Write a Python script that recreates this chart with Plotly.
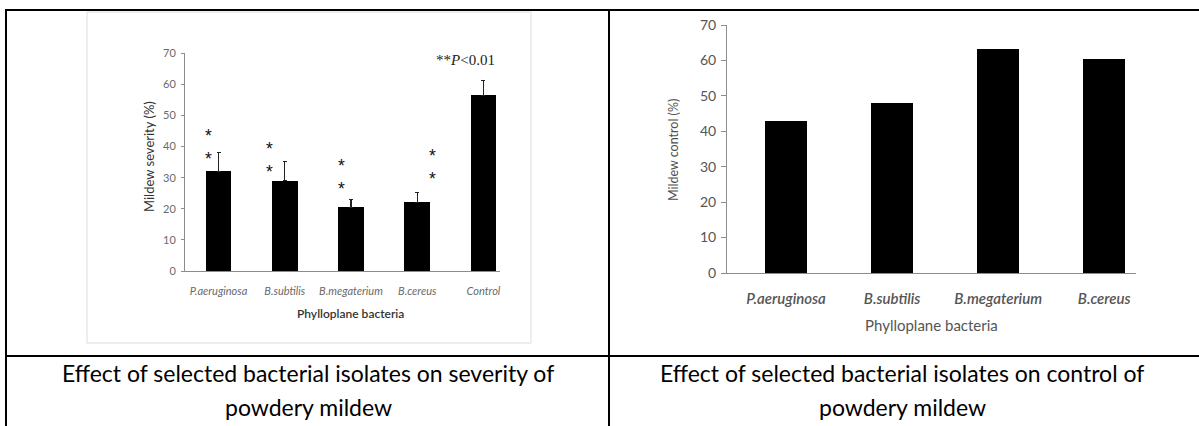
import plotly.graph_objects as go

W, H = 1199, 426

# ---------------- data ----------------
sev_categories = ["P.aeruginosa", "B.subtilis", "B.megaterium", "B.cereus", "Control"]
sev_values = [32.0, 29.0, 20.4, 22.1, 56.4]
sev_errors = [6.2, 6.3, 2.6, 3.2, 4.9]

ctrl_categories = ["P.aeruginosa", "B.subtilis", "B.megaterium", "B.cereus"]
ctrl_values = [42.9, 47.9, 63.2, 60.5]

y_ticks = [0, 10, 20, 30, 40, 50, 60, 70]

# significance markers ("**" written as two stacked asterisks per treated isolate)
star_offsets = [-0.15, -0.23, -0.14, 0.23]
star_levels = [40.4, 36.3, 30.7, 34.0]

caption_left = ["Effect of selected bacterial isolates on severity of", "powdery mildew"]
caption_right = ["Effect of selected bacterial isolates on control of", "powdery mildew"]


def px(x):
    return x / W


def py(y):
    return 1 - y / H


fig = go.Figure()

# left chart: mildew severity
fig.add_trace(go.Bar(
    x=list(range(len(sev_categories))), y=sev_values,
    marker=dict(color="black", line=dict(width=0)), width=0.39,
    error_y=dict(type="data", symmetric=False, array=sev_errors,
                 arrayminus=[0] * len(sev_errors), color="#222222",
                 thickness=1.3, width=2),
    xaxis="x", yaxis="y", showlegend=False, hoverinfo="skip",
))

# right chart: mildew control
fig.add_trace(go.Bar(
    x=list(range(len(ctrl_categories))), y=ctrl_values,
    marker=dict(color="black", line=dict(width=0)), width=0.4,
    xaxis="x2", yaxis="y2", showlegend=False, hoverinfo="skip",
))

axis_gray = "#8c8c8c"

fig.update_layout(
    template="none",
    autosize=False,
    width=W, height=H,
    margin=dict(l=0, r=0, t=0, b=0, pad=0, autoexpand=False),
    paper_bgcolor="white", plot_bgcolor="white",
    font=dict(family="Lato, 'Open Sans', sans-serif", color="#595959"),
    bargap=0,
    xaxis=dict(
        domain=[px(185), px(500)], range=[-0.506, 4.25], automargin=False,
        tickvals=list(range(len(sev_categories))), ticktext=sev_categories,
        tickfont=dict(size=11, family="Lato", color="#6a6a6a", style="italic"),
        showline=True, linecolor=axis_gray, linewidth=1,
        showgrid=False, zeroline=False, ticks="", ticklabelstandoff=10,
        anchor="y", fixedrange=True,
    ),
    yaxis=dict(
        domain=[py(271), py(53.3)], range=[0, 70], automargin=False,
        tickvals=y_ticks, tickfont=dict(size=11, family="Lato", color="#6a6a6a"),
        showline=True, linecolor=axis_gray, linewidth=1,
        ticks="outside", ticklen=3, tickcolor=axis_gray, ticklabelstandoff=3,
        showgrid=False, zeroline=False, anchor="x", fixedrange=True,
    ),
    xaxis2=dict(
        domain=[px(727), px(1136)], range=[-0.557, 3.30], automargin=False,
        tickvals=list(range(len(ctrl_categories))), ticktext=ctrl_categories,
        tickfont=dict(size=15, family="Lato", color="#555555", style="italic", weight=600),
        showline=True, linecolor=axis_gray, linewidth=1,
        showgrid=False, zeroline=False, ticks="", ticklabelstandoff=12,
        anchor="y2", fixedrange=True,
    ),
    yaxis2=dict(
        domain=[py(273), py(25)], range=[0, 70], automargin=False,
        tickvals=y_ticks, tickfont=dict(size=14, family="Lato", color="#555555"),
        showline=True, linecolor=axis_gray, linewidth=1,
        ticks="outside", ticklen=5, tickcolor=axis_gray, ticklabelstandoff=2,
        showgrid=False, zeroline=False, anchor="x2", fixedrange=True,
    ),
)

shapes = []
# table rules
line_k = dict(color="black", width=2)
shapes.append(dict(type="line", xref="paper", yref="paper", x0=px(5), x1=1, y0=py(10), y1=py(10), line=line_k))
shapes.append(dict(type="line", xref="paper", yref="paper", x0=px(6), x1=px(6), y0=py(10), y1=0, line=line_k))
shapes.append(dict(type="line", xref="paper", yref="paper", x0=px(609), x1=px(609), y0=py(10), y1=0, line=line_k))
shapes.append(dict(type="line", xref="paper", yref="paper", x0=px(5), x1=1, y0=py(356), y1=py(356), line=line_k))
# light frame around the left (embedded) chart
shapes.append(dict(type="rect", xref="paper", yref="paper", x0=px(87), x1=px(531), y0=py(343), y1=py(12),
                   line=dict(color="#dcdcdc", width=1), layer="below"))
fig.update_layout(shapes=shapes)

ann = []


def note(x, y, text, font, **kw):
    d = dict(x=px(x), y=py(y), xref="paper", yref="paper", text=text, showarrow=False,
             xanchor="center", yanchor="middle", font=font)
    d.update(kw)
    ann.append(d)


# stacked asterisks
for i, (off, lv) in enumerate(zip(star_offsets, star_levels)):
    ann.append(dict(x=i + off, y=lv, xref="x", yref="y", text="*<br>*", showarrow=False,
                    xanchor="center", yanchor="middle", align="center",
                    font=dict(size=17.5, family="Liberation Sans", color="#111111"), yshift=-2))
# P value note
note(466, 60, "**<i>P</i>&lt;0.01", dict(size=15, family="Liberation Serif", color="#222222"))
# axis titles
note(149, 157, "Mildew severity (%)", dict(size=13, family="Lato", color="#333333"), textangle=-90)
note(350, 313, "Phylloplane bacteria", dict(size=12, family="Lato", color="#333333", weight=600))
note(673, 150, "Mildew control (%)", dict(size=12.5, family="Lato", color="#4d4d4d"), textangle=-90)
note(932, 325, "Phylloplane bacteria", dict(size=15, family="Lato", color="#555555"))
# captions
cap_font = dict(size=23, family="Lato", color="black")
note(308, 373, caption_left[0], cap_font)
note(308, 407, caption_left[1], cap_font)
note(902, 373, caption_right[0], cap_font)
note(902, 407, caption_right[1], cap_font)
fig.update_layout(annotations=ann)

fig.write_html(
    "out.html",
    config={"displayModeBar": False},
    post_script=(
        "document.documentElement.style.margin='0';"
        "document.body.style.margin='0';"
        "document.documentElement.style.overflow='hidden';"
        "var g=document.getElementById('{plot_id}');"
        "g.style.position='fixed';g.style.top='0px';g.style.left='0px';"
    ),
)
